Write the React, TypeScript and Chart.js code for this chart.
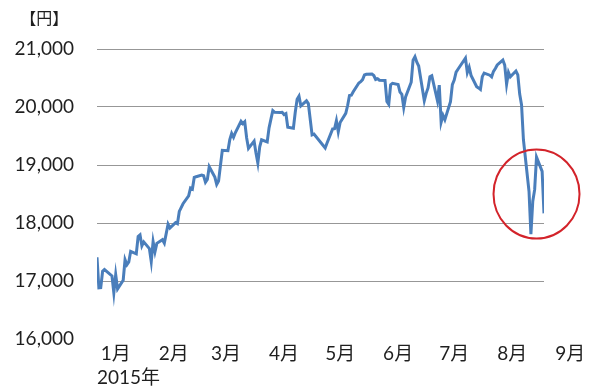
import React, { useEffect, useRef } from "react";
import { Chart, registerables } from "chart.js";

Chart.register(...registerables);

// Trading days (month/day, 2015)
const tradeDates: string[] = [
  "1/5","1/6","1/7","1/8","1/9","1/13","1/14","1/15","1/16","1/19","1/20","1/21","1/22","1/23","1/26","1/27","1/28","1/29","1/30",
  "2/2","2/3","2/4","2/5","2/6","2/9","2/10","2/12","2/13","2/16","2/17","2/18","2/19","2/20","2/23","2/24","2/25","2/26","2/27",
  "3/2","3/3","3/4","3/5","3/6","3/9","3/10","3/11","3/12","3/13","3/16","3/17","3/18","3/19","3/20","3/23","3/24","3/25","3/26","3/27","3/30","3/31",
  "4/1","4/2","4/3","4/6","4/7","4/8","4/9","4/10","4/13","4/14","4/15","4/16","4/17","4/20","4/21","4/22","4/23","4/24","4/27","4/28","4/30",
  "5/1","5/7","5/8","5/11","5/12","5/13","5/14","5/15","5/18","5/19","5/20","5/21","5/22","5/25","5/26","5/27","5/28","5/29",
  "6/1","6/2","6/3","6/4","6/5","6/8","6/9","6/10","6/11","6/12","6/15","6/16","6/17","6/18","6/19","6/22","6/23","6/24","6/25","6/26","6/29","6/30",
  "7/1","7/2","7/3","7/6","7/7","7/8","7/9","7/10","7/13","7/14","7/15","7/16","7/17","7/21","7/22","7/23","7/24","7/27","7/28","7/29","7/30","7/31",
  "8/3","8/4","8/5","8/6","8/7","8/10","8/11","8/12","8/13","8/14","8/17","8/18","8/19","8/20","8/21","8/24","8/25","8/26","8/27","8/28","8/31",
  "9/1",
];

// Closing values (円)
const closes: number[] = [
  17409,16883,16885,17167,17198,17088,16796,17109,16864,17014,17366,17280,17329,17512,17469,17768,17796,17606,17674,
  17558,17336,17679,17505,17649,17712,17653,17980,17913,18005,17987,18199,18265,18332,18467,18603,18585,18786,18798,
  18827,18815,18704,18752,18971,18791,18665,18724,18991,19254,19246,19437,19544,19477,19560,19754,19713,19746,19471,19286,19411,19207,
  19035,19313,19435,19398,19641,19790,19938,19908,19905,19909,19870,19886,19653,19634,19909,20134,20188,20020,20107,20059,19520,
  19532,19292,19379,19621,19625,19765,19570,19733,19890,20026,20197,20203,20264,20414,20437,20473,20551,20563,
  20570,20543,20474,20488,20461,20457,20096,20046,20383,20407,20388,20258,20219,19991,20174,20428,20809,20868,20771,20706,20110,20236,
  20329,20523,20540,20112,20377,19738,19856,19780,20090,20385,20463,20600,20651,20842,20594,20684,20545,20350,20329,20303,20523,20585,
  20548,20520,20614,20664,20725,20809,20721,20393,20596,20519,20620,20554,20223,20034,19436,18541,17807,18377,18574,19136,18890,
  18166,
];

// Axis labels
const monthLabels: string[] = ["1月","2月","3月","4月","5月","6月","7月","8月","9月"];
const monthLabelDates: string[] = ["1/15","2/15","3/15","4/15","5/15","6/15","7/15","8/15","9/15"];
const yearLabel = "2015年";
const unitLabel = "【円】";
const yTicks: number[] = [16000, 17000, 18000, 19000, 20000, 21000];

// Highlight circle (annotation around the August drop)
const circleDate = "8/28";
const circleValue = 18500;

const YEAR = 2015;
const dayOfYear = (md: string): number => {
  const [m, d] = md.split("/").map(Number);
  return (Date.UTC(YEAR, m - 1, d) - Date.UTC(YEAR, 0, 1)) / 86400000;
};

const FONT_FAMILY = "Lato, 'Noto Sans CJK JP', sans-serif";
const TEXT_COLOR = "#1f1f1f";
const FONT_SIZE = 19;

export default function App() {
  const ref = useRef<HTMLCanvasElement | null>(null);

  useEffect(() => {
    if (!ref.current) return;
    const points = tradeDates.map((d, i) => ({ x: dayOfYear(d), y: closes[i] }));
    const monthTickValues = monthLabelDates.map(dayOfYear);

    const extras = {
      id: "extras",
      afterDatasetsDraw(chart: any) {
        const { ctx, scales } = chart;
        const xs = scales.x;
        const ys = scales.y;
        ctx.save();
        ctx.beginPath();
        ctx.ellipse(
          xs.getPixelForValue(dayOfYear(circleDate)),
          ys.getPixelForValue(circleValue),
          43,
          44.5,
          0,
          0,
          Math.PI * 2
        );
        ctx.strokeStyle = "#d3232a";
        ctx.lineWidth = 2;
        ctx.stroke();
        ctx.restore();
      },
      afterDraw(chart: any) {
        const { ctx, scales, chartArea } = chart;
        const ys = scales.y;
        ctx.save();
        ctx.font = `${FONT_SIZE}px ${FONT_FAMILY}`;
        const w = ctx.measureText("21,000").width;
        ctx.font = `16px ${FONT_FAMILY}`;
        ctx.fillStyle = TEXT_COLOR;
        ctx.textAlign = "center";
        ctx.textBaseline = "middle";
        const cx = ys.right - 23 - w / 2;
        ctx.fillText(unitLabel, cx, chartArea.top - 30);
        ctx.restore();
      },
    };

    const chart = new Chart(ref.current, {
      type: "line",
      data: {
        datasets: [
          {
            data: points,
            borderColor: "#4a7ebb",
            borderWidth: 3,
            pointRadius: 0,
            tension: 0,
            fill: false,
          },
        ],
      },
      options: {
        animation: false,
        responsive: false,
        devicePixelRatio: 1,
        layout: { padding: { top: 49, right: 48, left: 0, bottom: 0 } },
        plugins: {
          legend: { display: false },
          tooltip: { enabled: false },
          title: { display: false },
        },
        scales: {
          x: {
            type: "linear",
            min: dayOfYear(tradeDates[0]),
            max: dayOfYear(tradeDates[tradeDates.length - 1]),
            grid: { display: false, drawTicks: false },
            border: { display: false },
            afterBuildTicks: (scale: any) => {
              scale.ticks = monthTickValues.map((v) => ({ value: v }));
            },
            afterFit: (scale: any) => {
              scale.paddingLeft = 0;
              scale.paddingRight = 0;
              scale.height = 51;
            },
            ticks: {
              autoSkip: false,
              maxRotation: 0,
              minRotation: 0,
              padding: 3,
              color: TEXT_COLOR,
              font: { family: FONT_FAMILY, size: FONT_SIZE },
              callback: (_v: any, i: number) => monthLabels[i],
            },
            title: {
              display: true,
              text: yearLabel,
              align: "start",
              color: TEXT_COLOR,
              font: { family: FONT_FAMILY, size: FONT_SIZE },
              padding: { top: 2, bottom: 1 },
            },
          },
          y: {
            min: yTicks[0],
            max: yTicks[yTicks.length - 1],
            afterBuildTicks: (scale: any) => {
              scale.ticks = yTicks.map((v) => ({ value: v }));
            },
            afterFit: (scale: any) => {
              scale.width = 97;
            },
            grid: {
              drawTicks: false,
              color: (c: any) => (c.tick && c.tick.value === yTicks[0] ? "rgba(0,0,0,0)" : "#979797"),
              lineWidth: 1,
            },
            border: { display: false },
            ticks: {
              padding: 23,
              color: TEXT_COLOR,
              font: { family: FONT_FAMILY, size: FONT_SIZE },
              callback: (v: any) => Number(v).toLocaleString("en-US"),
            },
          },
        },
      },
      plugins: [extras],
    } as any);

    return () => chart.destroy();
  }, []);

  return (
    <div style={{ position: "fixed", left: 0, top: 0, width: 592, height: 390, background: "#fff" }}>
      <canvas ref={ref} width={592} height={390} style={{ display: "block", width: 592, height: 390 }} />
    </div>
  );
}
